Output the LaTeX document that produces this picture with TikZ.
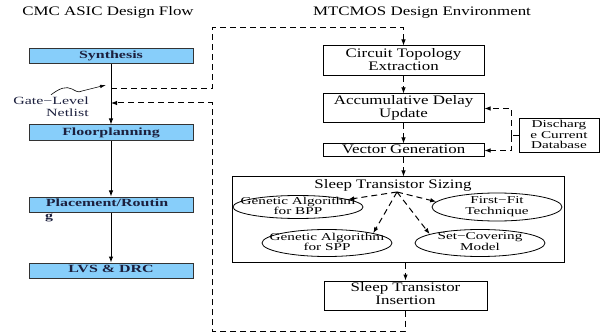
\documentclass[tikz,border=0pt]{standalone}
\usepackage{fontspec}
\usepackage{graphicx}
\setmainfont{Liberation Serif}
\usetikzlibrary{arrows.meta,shapes.geometric}
\definecolor{flowblue}{RGB}{135,206,250}
\definecolor{inkblue}{RGB}{28,32,62}
% text drawn wider than the font, as in the figure
\newcommand{\widetxt}[3]{\scalebox{#1}[1]{\begin{tabular}{@{}#2@{}}#3\end{tabular}}}
\newcommand{\envtxt}[1]{\widetxt{1.3}{c}{#1}}
\newcommand{\algtxt}[1]{\widetxt{1.45}{c}{#1}}
\begin{document}
\begin{tikzpicture}[x=1pt, y=-1pt,
        heading/.style={font=\fontsize{13}{13}\selectfont},
        flowbox/.style={draw=black!80, line width=1pt, fill=flowblue, minimum width=164pt, minimum height=15pt, inner sep=0pt, text=inkblue, font=\bfseries\fontsize{11}{11}\selectfont},
        envbox/.style={draw, line width=1pt, minimum width=161pt, inner sep=0pt, font=\fontsize{13}{13}\selectfont},
        algo/.style={ellipse, draw, line width=0.8pt, minimum width=130pt, minimum height=26pt, inner xsep=-12pt, inner ysep=-3pt, font=\fontsize{10.5}{9.5}\selectfont},
        arrow/.style={-{Latex[length=6pt,width=4.5pt]}, line width=1pt},
        dasharrow/.style={arrow, dash pattern=on 6pt off 4pt},
        dashline/.style={line width=1pt, dash pattern=on 6pt off 4pt}
    ]
    \useasboundingbox (0,0) rectangle (600,334);
    % Nodes
    \node[heading] (cmc) at (108,13) {\envtxt{CMC ASIC Design Flow}};
    \node[heading] (mtc) at (422,13) {\envtxt{MTCMOS Design Environment}};
    \node[flowbox] (syn) at (111,56.5) {\algtxt{Synthesis}};
    \node[flowbox, minimum height=16pt] (flp) at (111,133) {\algtxt{Floorplanning}};
    \node[flowbox] (plr) at (111,204.5) {\hspace*{-8pt}\algtxt{Placement/Routin}};
    \node[text=inkblue, font=\bfseries\fontsize{11}{11}\selectfont, inner sep=0pt] (plrg) at (49,217) {\algtxt{g}};
    \node[flowbox] (lvs) at (111,270.5) {\algtxt{LVS \& DRC}};
    \node[text=inkblue, inner sep=1pt, font=\fontsize{11}{12}\selectfont] (net) at (51,108) {\widetxt{1.45}{r}{Gate−Level\\Netlist}};
    \coordinate (gout) at (111,89);
    \coordinate (gin) at (111,103);
    \coordinate (gtip) at (106,85);
    \coordinate (lt) at (212,28);
    \coordinate (lb) at (212,331);

    \node[envbox, minimum height=30pt] (cte) at (403.5,61) {\envtxt{Circuit Topology\\Extraction}};
    \node[envbox, minimum height=29pt] (adu) at (403.5,108.5) {\envtxt{Accumulative Delay\\Update}};
    \node[envbox, minimum height=13pt] (vg) at (403.5,150.5) {\envtxt{Vector Generation}};
    \node[draw, line width=1pt, minimum width=80pt, minimum height=34pt, inner sep=0pt, font=\fontsize{10.5}{10.5}\selectfont] (dcd) at (559,136) {\algtxt{Discharg\\e Current\\Database}};
    \coordinate (dj) at (511,136);

    \node[draw, line width=1pt, minimum width=332pt, minimum height=85pt] (sts) at (398,219.5) {};
    \node[heading, anchor=north, inner sep=2pt] (stt) at (393,177) {\envtxt{Sleep Transistor Sizing}};
    \coordinate (hub) at (397,192);
    \node[algo, minimum height=23pt] (gab) at (298,207) {\algtxt{Genetic Algorithm\\for BPP}};
    \node[algo, minimum height=28pt] (ffit) at (497,207) {\algtxt{First−Fit\\Technique}};
    \node[algo, minimum height=27pt] (gas) at (327,243) {\algtxt{Genetic Algorithm\\for SPP}};
    \node[algo, minimum height=27pt] (scm) at (480,243) {\algtxt{Set−Covering\\Model}};
    \node[envbox, minimum width=163pt, minimum height=29pt] (sti) at (405.5,295.5) {\envtxt{Sleep Transistor\\Insertion}};

    % Edges
    \draw[arrow] (syn) -- (flp);
    \draw[arrow] (flp) -- (plr);
    \draw[arrow] (plr) -- (lvs);
    \draw[-{Latex[length=6pt,width=3.5pt]}, line width=0.6pt] (net.north) .. controls (60,88) and (66,86) .. (72,89) .. controls (76,91) and (78,93) .. (82,91) -- (gtip);
    \draw[dasharrow] (gout) -| (lt) -| (cte.north);
    \draw[dasharrow] (sti.south) |- (lb) |- (gin);
    \draw[dasharrow] (cte) -- (adu);
    \draw[dasharrow] (adu) -- (vg);
    \draw[dasharrow] (vg.south) -- (vg.south |- sts.north);
    \draw[dasharrow] (sti.north |- sts.south) -- (sti.north);
    \draw[dashline] (dcd.west) -- (dj);
    \draw[dasharrow] (dj) |- (adu.east);
    \draw[dasharrow] (dj) |- (vg.east);
    \draw[dasharrow] (hub) -- (gab);
    \draw[dasharrow] (hub) -- (ffit.175);
    \draw[dasharrow] (hub) -- (gas.north east);
    \draw[dasharrow] (hub) -- (scm.170);
\end{tikzpicture}
\end{document}
